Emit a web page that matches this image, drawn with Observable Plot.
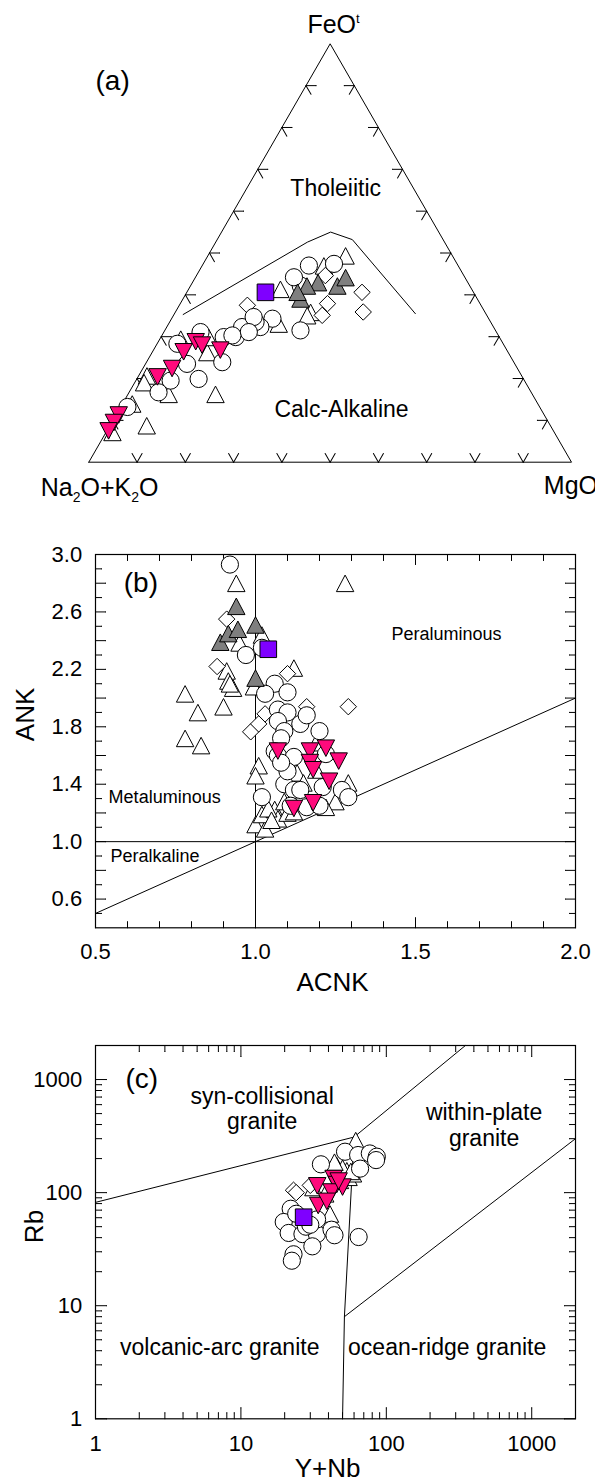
<!DOCTYPE html>
<html><head><meta charset="utf-8">
<script src="https://cdn.jsdelivr.net/npm/d3@7"></script>
<script src="https://cdn.jsdelivr.net/npm/@observablehq/plot@0.6"></script>
<style>
body{margin:0;background:#fff;}
#wrap{position:relative;width:595px;height:1478px;overflow:hidden;background:#fff;}
#wrap svg{position:absolute;left:0;}
</style></head><body><div id="wrap"></div>
<script>
const FONT = '"Liberation Sans", Arial, Helvetica, sans-serif';

// ---------- Panel (a): AFM ternary, each point = [Na2O+K2O, FeOt, MgO] (%)
const afmVertices = [[100,0,0],[0,0,100],[0,100,0],[100,0,0]];
const afmBoundary = [[62.8,35.3,1.9],[28.4,52.6,19.0],[22.4,55.0,22.6],[18.8,53.2,28.0],[14.6,35.5,49.9]];
const afmTicks = [10,20,30,40,50,60,70,80,90];
const afmCircles = [
 [25.5,47.4,27.1],[30.9,47.0,22.1],[35.0,42.2,22.8],[35.4,44.2,20.4],[44.8,34.3,20.9],[48.3,32.3,19.4],
 [48.7,33.5,17.8],[51.9,31.9,16.2],[54.6,29.9,15.5],[57.1,29.9,13.0],[40.4,31.5,28.1],[61.3,31.1,7.6],
 [60.4,23.9,15.7],[67.9,23.5,8.6],[67.3,19.9,12.8],[73.3,19.5,7.2],[77.2,16.7,6.1],[85.4,13.2,1.4],
 [52.1,32.3,15.6],[48.5,34.7,16.8],[51.3,31.1,17.6],[55.1,30.3,14.6],[67.5,28.3,4.2]
];
const afmTriangles = [
 [22.3,49.0,28.7],[39.8,41.0,19.2],[44.3,32.7,23.0],[65.8,15.9,18.3],[83.8,8.4,7.8],[84.2,13.6,2.2],
 [77.8,20.3,1.9],[66.4,29.1,4.5],[75.5,15.9,8.6],[91.7,6.8,1.5],[36.3,35.5,28.2],[62.5,25.9,11.6],
 [28.0,46.6,25.4],[79.2,18.7,2.1],[60.4,29.5,10.1],[37.4,34.7,27.9]
];
const afmDiamonds = [[23.1,40.6,36.3],[25.2,35.9,38.9],[31.6,37.9,30.5],[34.1,35.1,30.8],[28.7,44.6,26.7],[48.4,37.5,14.1]];
const afmGrey = [[31.2,42.6,26.2],[33.9,41.8,24.3],[27.6,41.8,30.6],[24.9,43.8,31.3],[36.8,38.7,24.5],[36.6,40.3,23.1]];
const afmMagenta = [[63.3,29.1,7.6],[67.0,26.7,6.3],[62.4,28.3,9.3],[59.2,27.1,13.7],[71.4,22.7,5.9],[75.4,20.7,3.9],[88.0,11.6,0.4],[89.9,9.8,0.3],[92.0,7.8,0.2]];
const afmSquare = [[43.1,40.6,16.3]];
const afmFieldLabels = [{c:[16.1,65.5,18.4], t:"Tholeiitic"},{c:[41.4,12.5,46.1], t:"Calc-Alkaline"}];

// ---------- Panel (b): [ACNK, ANK]
const ankLines = [[[0.5,1],[2,1]],[[1,0.4],[1,3]],[[0.5,0.5],[2,2]]];
const ankXLabels = [0.5,1.0,1.5,2.0];
const ankYLabels = [0.6,1.0,1.4,1.8,2.2,2.6,3.0];
const ankCircles = [[0.92,2.93],[0.97,2.30],[1.02,2.35],[1.06,2.10],[1.03,2.03],[1.10,2.04],[1.07,1.92],[1.10,1.90],[1.07,1.84],[1.14,1.82],[1.16,1.88],[1.20,1.77],[1.09,1.77],[1.08,1.72],[1.06,1.63],[1.07,1.60],[1.12,1.59],[1.22,1.61],[1.02,1.31],[1.09,1.40],[1.12,1.36],[1.14,1.36],[1.21,1.38],[1.27,1.36],[1.29,1.31],[1.16,1.24],[1.20,1.25],[1.10,1.49],[1.08,1.55],[1.11,1.25]];
const ankTriangles = [[0.94,2.79],[1.28,2.79],[0.95,2.375],[1.02,2.43],[0.91,2.18],[0.915,2.11],[0.93,2.06],[0.92,2.09],[0.995,2.07],[0.78,2.02],[0.82,1.89],[0.78,1.71],[0.83,1.66],[0.90,1.93],[1.12,2.20],[1.01,1.52],[1.0,1.45],[1.0,1.11],[1.03,1.08],[1.02,1.18],[1.06,1.215],[1.07,1.15],[1.09,1.27],[1.10,1.19],[1.11,1.54],[1.13,1.47],[1.19,1.49],[1.25,1.27],[1.29,1.40],[1.22,1.23],[1.19,1.68],[1.04,1.22],[1.12,1.20],[1.15,1.40],[1.05,1.14]];
const ankDiamonds = [[0.91,2.55],[0.88,2.22],[0.985,1.765],[1.01,1.82],[1.03,1.89],[1.16,1.94],[1.29,1.94],[1.10,2.17]];
const ankGrey = [[0.89,2.38],[0.915,2.44],[0.945,2.47],[0.94,2.63],[1.0,2.50],[1.0,2.13]];
const ankMagenta = [[1.07,1.64],[1.17,1.64],[1.17,1.56],[1.18,1.51],[1.22,1.66],[1.26,1.57],[1.23,1.43],[1.12,1.24],[1.18,1.28]];
const ankSquare = [[1.04,2.34]];
const ankLabelsCentered = [{p:[1.597,2.403], t:"Peraluminous"}];
const ankLabelsLeft = [{p:[0.541,1.267], t:"Metaluminous"},{p:[0.547,0.861], t:"Peralkaline"}];

// ---------- Panel (c): [Y+Nb, Rb]
const rbLines = [[[1,82],[60,310]],[[60,310],[350,2000]],[[60,310],[51.5,8],[50,1]],[[51.5,8],[2000,300]]];
const rbLabels = [1,10,100,1000];
const rbCircles = [[52,230],[64,215],[77,222],[86,208],[85,194],[66,163],[35.5,178],[22,72],[19.7,55],[21.3,44],[26.5,43],[33.3,43],[31,33.5],[42,47],[44,42],[64.5,40.5],[23,28.5],[22.4,25],[24,65],[28,50],[33.4,58],[30,52]];
const rbTriangles = [[61.6,281],[45.6,169],[53.5,152],[55,133],[41,63],[31.5,108],[59,143],[50,160],[57,150],[44,181],[38,95],[48,125]];
const rbDiamonds = [[23,105],[30,116],[24,100]];
const rbMagenta = [[33.5,118],[43.4,137],[45.6,121],[50,115],[42,104],[34,79],[39,86],[47,130]];
const rbSquare = [[27,60.6]];
const rbFieldLabels = [{p:[14.0,367], t:"syn-collisional\ngranite"},{p:[470,261], t:"within-plate\ngranite"},{p:[7.15,3.63], t:"volcanic-arc granite"},{p:[262,3.63], t:"ocean-ridge granite"}];

// ---------- symbols
const sym = fn => ({draw(ctx, size){ const r = Math.sqrt(size/Math.PI); fn(ctx, r); }});
const triUp = sym((c,r)=>{c.moveTo(0,-r*1.1);c.lineTo(r,r*0.8);c.lineTo(-r,r*0.8);c.closePath();});
const triDown = sym((c,r)=>{c.moveTo(0,r*1.1);c.lineTo(r,-r*0.8);c.lineTo(-r,-r*0.8);c.closePath();});
const diamond = sym((c,r)=>{c.moveTo(0,-r);c.lineTo(r,0);c.lineTo(0,r);c.lineTo(-r,0);c.closePath();});
const square = sym((c,r)=>{c.moveTo(-r,-r);c.lineTo(r,-r);c.lineTo(r,r);c.lineTo(-r,r);c.closePath();});
const MAGENTA = "#ff0a7c", PURPLE = "#7f00ff", GREY = "#7f7f7f";
const SERIES = [
  {k:"tri", symbol: triUp, fill:"white", r:8.7},
  {k:"dia", symbol: diamond, fill:"white", r:8.2},
  {k:"cir", symbol: "circle", fill:"white", r:8.6},
  {k:"grey", symbol: triUp, fill:GREY, r:8.7},
  {k:"mag", symbol: triDown, fill:MAGENTA, r:8.7},
  {k:"sq", symbol: square, fill:PURPLE, r:8.3}
];
function dotMarks(sets, X, Y){
  return SERIES.filter(s => sets[s.k]).map(s => Plot.dot(sets[s.k], {x:X, y:Y, symbol:s.symbol, r:s.r, fill:s.fill, stroke:"black", strokeWidth:1}));
}
const ln = {stroke:"black", strokeWidth:1};
function vec(data, opts){ return Plot.vector(data, {anchor:"start", r:0, stroke:"black", strokeWidth:1, ...opts}); }

const wrap = document.getElementById("wrap");
function place(svg, top){ svg.style.top = top+"px"; wrap.appendChild(svg); }
function rich(svg, plain, parts){
  svg.querySelectorAll("text").forEach(t => {
    if (t.textContent !== plain) return;
    while (t.firstChild) t.removeChild(t.firstChild);
    let shift = 0;
    for (const [s,k] of parts){
      const ts = document.createElementNS("http://www.w3.org/2000/svg","tspan");
      const target = k==="sub" ? 6 : k==="sup" ? -10 : 0;
      if (target !== shift){ ts.setAttribute("dy", target-shift); shift = target; }
      if (k) ts.setAttribute("font-size", k==="sub" ? 14 : 13);
      ts.textContent = s;
      t.appendChild(ts);
    }
  });
}

// ---------- (a)
const SQ3 = Math.sqrt(3)/2;
const tern = ([a,f,m]) => { const s=a+f+m; return {x:(m+f/2)/s, y:(f/s)*SQ3}; };
const baseP = afmTicks.map(t => tern([100-t,0,t]));
const leftP = afmTicks.map(t => tern([100-t,t,0]));
const rightP = afmTicks.map(t => tern([0,t,100-t]));
const aPlot = Plot.plot({
  width:595, height:510, marginLeft:88.3, marginRight:24, marginTop:43.3, marginBottom:48.3,
  x:{domain:[0,1], axis:null}, y:{domain:[0,SQ3], axis:null},
  style:{fontFamily:FONT, background:"transparent", overflow:"visible", color:"black"},
  marks:[
    Plot.line(afmVertices.map(tern), {x:"x", y:"y", ...ln}),
    vec(baseP, {x:"x", y:"y", rotate:30, length:10}),
    vec(baseP, {x:"x", y:"y", rotate:-30, length:10}),
    vec(leftP, {x:"x", y:"y", rotate:90, length:10}),
    vec(leftP, {x:"x", y:"y", rotate:150, length:10}),
    vec(rightP, {x:"x", y:"y", rotate:270, length:10}),
    vec(rightP, {x:"x", y:"y", rotate:210, length:10}),
    Plot.line(afmBoundary.map(tern), {x:"x", y:"y", ...ln}),
    Plot.text(afmFieldLabels, {x:d=>tern(d.c).x, y:d=>tern(d.c).y, text:"t", fontSize:23, lineAnchor:"middle", fill:"black"}),
    ...dotMarks({tri:afmTriangles.map(tern), dia:afmDiamonds.map(tern), cir:afmCircles.map(tern), grey:afmGrey.map(tern), mag:afmMagenta.map(tern), sq:afmSquare.map(tern)}, "x", "y"),
    Plot.text([tern(afmVertices[2])], {x:"x", y:"y", text:()=>"FeOt", dx:-22.7, dy:-10.6, textAnchor:"start", lineAnchor:"bottom", fontSize:25, fill:"black"}),
    Plot.text([tern(afmVertices[0])], {x:"x", y:"y", text:()=>"Na2O+K2O", dx:69.7, dy:33.3, textAnchor:"end", lineAnchor:"bottom", fontSize:25, fill:"black"}),
    Plot.text([tern(afmVertices[1])], {x:"x", y:"y", text:()=>"MgO", dx:-27.7, dy:31.6, textAnchor:"start", lineAnchor:"bottom", fontSize:25, fill:"black"}),
    Plot.text(["(a)"], {frameAnchor:"top-left", text:d=>d, dx:6.7, dy:46.2, textAnchor:"start", lineAnchor:"bottom", fontSize:28, fill:"black"})
  ]
});
rich(aPlot, "FeOt", [["FeO",null],["t","sup"]]);
rich(aPlot, "Na2O+K2O", [["Na",null],["2","sub"],["O+K",null],["2","sub"],["O",null]]);
place(aPlot, 0);

// ---------- (b)
const bx = d3.range(5,21).map(i=>i/10);
const bxMaj = bx.filter((d,i)=>i%5===0), bxMin = bx.filter((d,i)=>i%5!==0);
const by = d3.range(5,30).map(i=>i/10);
const byMaj = by.filter(d=>Math.round(d*10)%2===0), byMin = by.filter(d=>Math.round(d*10)%2!==0);
const fmt1 = d3.format(".1f");
const bPlot = Plot.plot({
  width:595, height:500, marginLeft:95, marginRight:20, marginTop:49, marginBottom:77.7,
  x:{domain:[0.5,2], axis:null}, y:{domain:[0.4,3.0], axis:null},
  style:{fontFamily:FONT, background:"transparent", overflow:"visible", color:"black"},
  marks:[
    vec(bxMaj, {x:d=>d, frameAnchor:"bottom", rotate:0, length:10}),
    vec(bxMin, {x:d=>d, frameAnchor:"bottom", rotate:0, length:6}),
    vec(bxMaj, {x:d=>d, frameAnchor:"top", rotate:180, length:10}),
    vec(bxMin, {x:d=>d, frameAnchor:"top", rotate:180, length:6}),
    vec(byMaj, {y:d=>d, frameAnchor:"left", rotate:90, length:10}),
    vec(byMin, {y:d=>d, frameAnchor:"left", rotate:90, length:6}),
    vec(byMaj, {y:d=>d, frameAnchor:"right", rotate:270, length:10}),
    vec(byMin, {y:d=>d, frameAnchor:"right", rotate:270, length:6}),
    ...ankLines.map(l => Plot.line(l, {x:d=>d[0], y:d=>d[1], ...ln})),
    Plot.frame({stroke:"black", strokeWidth:1.2}),
    Plot.text(ankXLabels, {x:d=>d, frameAnchor:"bottom", text:d=>fmt1(d), dy:16, lineAnchor:"top", fontSize:22, fill:"black"}),
    Plot.text(ankYLabels, {y:d=>d, frameAnchor:"left", text:d=>fmt1(d), dx:-13.3, textAnchor:"end", lineAnchor:"middle", fontSize:22, fill:"black"}),
    Plot.text(ankLabelsCentered, {x:d=>d.p[0], y:d=>d.p[1], text:"t", textAnchor:"middle", lineAnchor:"bottom", fontSize:18, fill:"black"}),
    Plot.text(ankLabelsLeft, {x:d=>d.p[0], y:d=>d.p[1], text:"t", textAnchor:"start", lineAnchor:"bottom", fontSize:18, fill:"black"}),
    ...dotMarks({tri:ankTriangles, dia:ankDiamonds, cir:ankCircles, grey:ankGrey, mag:ankMagenta, sq:ankSquare}, d=>d[0], d=>d[1]),
    Plot.text(["ACNK"], {frameAnchor:"bottom", text:d=>d, dy:62.7, dx:-3, lineAnchor:"bottom", fontSize:26, fill:"black"}),
    Plot.text(["ANK"], {frameAnchor:"left", text:d=>d, dx:-62, rotate:-90, lineAnchor:"bottom", fontSize:26, fill:"black"}),
    Plot.text(["(b)"], {frameAnchor:"top-left", text:d=>d, dx:28.3, dy:37, textAnchor:"start", lineAnchor:"bottom", fontSize:28, fill:"black"})
  ]
});
place(bPlot, 505);

// ---------- (c)
const decades = [1,10,100,1000];
const cMaj = decades;
const cMin = decades.flatMap(d => [2,3,4,5,6,7,8,9].map(k=>k*d)).filter(v => v < 2000);
const cPlot = Plot.plot({
  width:595, height:473, marginLeft:95, marginRight:20, marginTop:40, marginBottom:59.7,
  x:{type:"log", domain:[1,2000], axis:null}, y:{type:"log", domain:[1,2000], axis:null},
  style:{fontFamily:FONT, background:"transparent", overflow:"visible", color:"black"},
  marks:[
    vec(cMaj, {x:d=>d, frameAnchor:"bottom", rotate:0, length:11}),
    vec(cMin, {x:d=>d, frameAnchor:"bottom", rotate:0, length:6}),
    vec(cMaj, {x:d=>d, frameAnchor:"top", rotate:180, length:11}),
    vec(cMin, {x:d=>d, frameAnchor:"top", rotate:180, length:6}),
    vec(cMaj, {y:d=>d, frameAnchor:"left", rotate:90, length:11}),
    vec(cMin, {y:d=>d, frameAnchor:"left", rotate:90, length:6}),
    vec(cMaj, {y:d=>d, frameAnchor:"right", rotate:270, length:11}),
    vec(cMin, {y:d=>d, frameAnchor:"right", rotate:270, length:6}),
    ...rbLines.map(l => Plot.line(l, {x:d=>d[0], y:d=>d[1], ...ln})),
    Plot.frame({stroke:"black", strokeWidth:1.2}),
    Plot.text(rbLabels, {x:d=>d, frameAnchor:"bottom", text:d=>String(d), dy:16.7, lineAnchor:"top", fontSize:22, fill:"black"}),
    Plot.text(rbLabels, {y:d=>d, frameAnchor:"left", text:d=>String(d), dx:-13.3, textAnchor:"end", lineAnchor:"middle", fontSize:22, fill:"black"}),
    Plot.text(rbFieldLabels, {x:d=>d.p[0], y:d=>d.p[1], text:"t", lineAnchor:"bottom", lineHeight:1.09, fontSize:23, fill:"black"}),
    ...dotMarks({tri:rbTriangles, dia:rbDiamonds, cir:rbCircles, mag:rbMagenta, sq:rbSquare}, d=>d[0], d=>d[1]),
    Plot.text(["Y+Nb"], {frameAnchor:"bottom", text:d=>d, dy:57.7, dx:-8, lineAnchor:"bottom", fontSize:26, fill:"black"}),
    Plot.text(["Rb"], {frameAnchor:"left", text:d=>d, dx:-53, dy:11, rotate:-90, lineAnchor:"bottom", fontSize:26, fill:"black"}),
    Plot.text(["(c)"], {frameAnchor:"top-left", text:d=>d, dx:30, dy:42.5, textAnchor:"start", lineAnchor:"bottom", fontSize:28, fill:"black"})
  ]
});
place(cPlot, 1005);
</script></body></html>
